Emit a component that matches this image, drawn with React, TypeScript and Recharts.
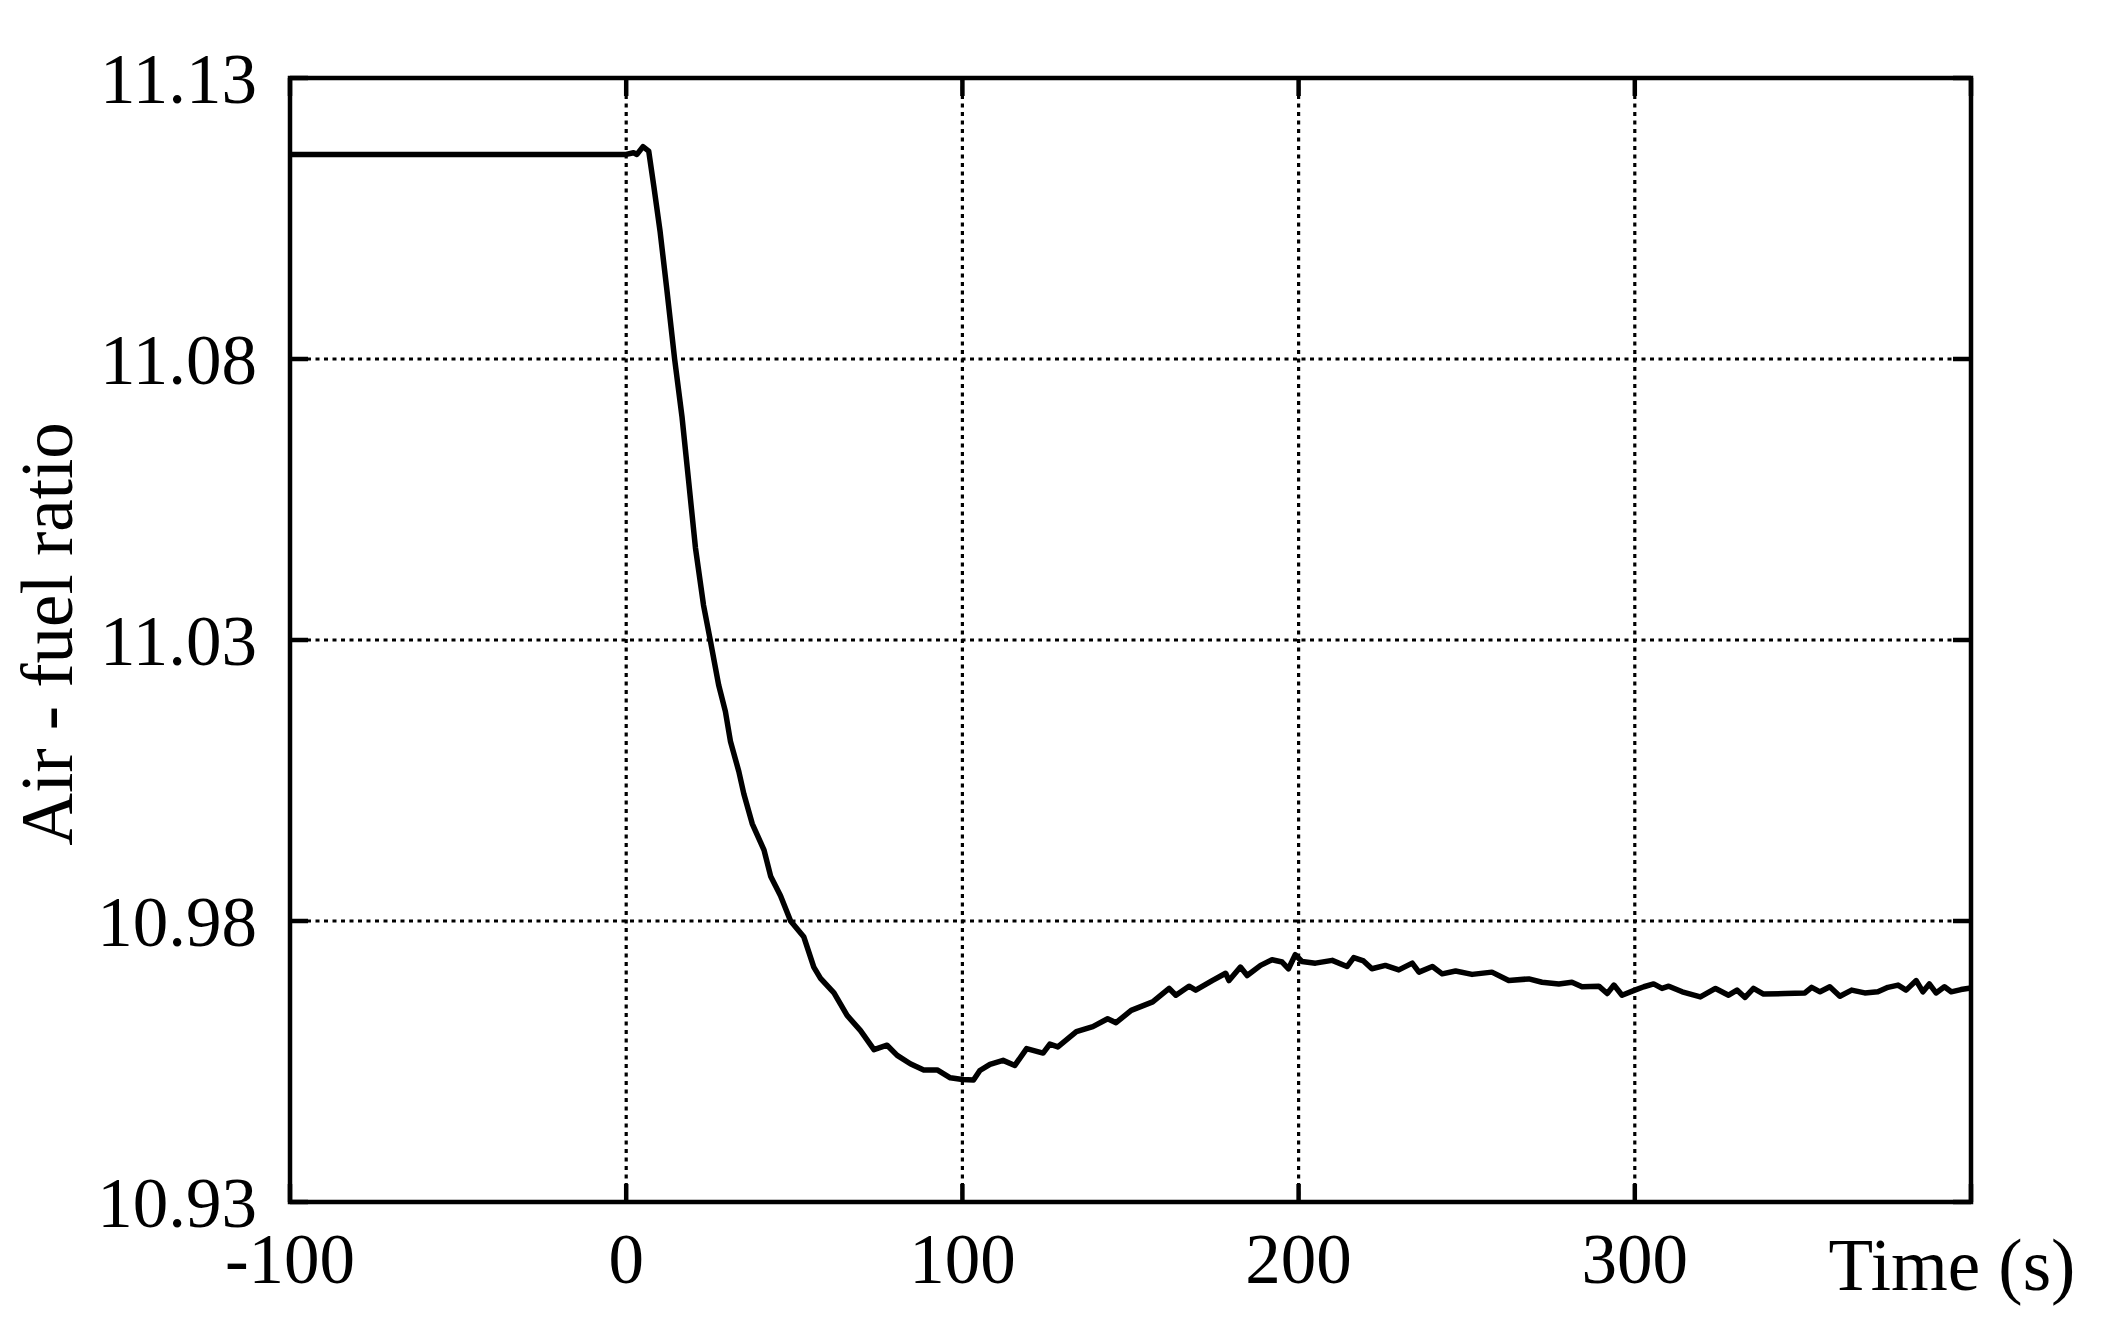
import React from 'react';
import { LineChart, Line, XAxis, YAxis, CartesianGrid, ReferenceArea, Label } from 'recharts';

// ---- data ----
const timeSeconds = [
  -100, 0, 2.2, 3.2, 5, 6.7, 8.2, 10.1, 12.1, 14.4, 16.6, 18.6, 20.6, 23, 25, 27.5, 29.5, 31, 33.5, 35,
  37.5, 41, 43, 45.9, 48.9, 52.8, 55.8, 57.8, 61.8, 65.7, 69.7, 73.7, 77.6, 80.6, 84.5, 88.5, 92.5, 96.4,
  100, 103.3, 105.2, 108.2, 112.1, 115.6, 119.1, 124, 126, 128.4, 133.9, 138.8, 143.2, 145.7, 150.2,
  156.6, 161.5, 163.5, 167.4, 169.4, 174.3, 178.3, 179.3, 182.7, 184.7, 188.7, 192.1, 195.1, 197, 199,
  201, 205, 210, 214.4, 216.4, 219.3, 221.8, 225.8, 229.8, 233.8, 235.8, 239.8, 242.7, 246.7, 251.6,
  257.5, 262.5, 268.5, 272.4, 277.4, 281.3, 284.3, 289.3, 291.8, 293.8, 296.2, 300, 302.7, 305.6, 308.1,
  310.1, 314.1, 319.5, 324, 327.9, 330.4, 332.8, 335.3, 338.3, 344.7, 350.6, 352.6, 355.1, 358, 361,
  364.5, 368.4, 372.3, 375.3, 378.3, 380.7, 383.7, 385.7, 387.6, 389.6, 392.1, 394.1, 397, 400,
];
const airFuelRatio = [
  11.1164, 11.1164, 11.1167, 11.1164, 11.1178, 11.117, 11.1108, 11.1026, 11.0923, 11.08, 11.0697, 11.0581,
  11.0464, 11.0362, 11.03, 11.022, 11.0173, 11.012, 11.0066, 11.0026, 10.9973, 10.9926, 10.9879, 10.9845,
  10.98, 10.9772, 10.9718, 10.9698, 10.9672, 10.9632, 10.9605, 10.9571, 10.9579, 10.9561, 10.9546,
  10.9535, 10.9535, 10.9521, 10.9518, 10.9517, 10.9534, 10.9545, 10.9552, 10.9543, 10.9573, 10.9565,
  10.9581, 10.9576, 10.9603, 10.9612, 10.9626, 10.9619, 10.9641, 10.9656, 10.968, 10.9668, 10.9684,
  10.9677, 10.9694, 10.9707, 10.9694, 10.9718, 10.9703, 10.9721, 10.9731, 10.9727, 10.9715, 10.974,
  10.9728, 10.9725, 10.973, 10.9719, 10.9735, 10.9729, 10.9715, 10.9721, 10.9713, 10.9725, 10.9709,
  10.9719, 10.9706, 10.9711, 10.9705, 10.9709, 10.9694, 10.9697, 10.9691, 10.9688, 10.9691, 10.9683,
  10.9684, 10.9671, 10.9686, 10.9668, 10.9677, 10.9683, 10.9688, 10.968, 10.9684, 10.9674, 10.9665,
  10.968, 10.9668, 10.9677, 10.9664, 10.968, 10.967, 10.9671, 10.9672, 10.9682, 10.9674, 10.9683,
  10.9666, 10.9677, 10.9672, 10.9674, 10.9682, 10.9686, 10.9677, 10.9694, 10.9674, 10.9688, 10.9672,
  10.9683, 10.9674, 10.9678, 10.9681,
];
const xTicks = [-100, 0, 100, 200, 300, 400];
const yTicks = [10.93, 10.98, 11.03, 11.08, 11.13];
const xDomain = [-100, 400];
const yDomain = [10.93, 11.13];
const xAxisTitle = 'Time (s)';
const yAxisTitle = 'Air - fuel ratio';

const data = timeSeconds.map((t, i) => ({ t, afr: airFuelRatio[i] }));

// ---- styling ----
const FONT = "'Liberation Serif', 'Times New Roman', serif";
const FS = 71;
const TICK_LEN = 18;
const TICK_W = 4.5;

function BottomTick(props: any) {
  const { x, y, payload } = props;
  const show = payload.value !== 400;
  return (
    <g>
      <line x1={x} y1={y} x2={x} y2={y - TICK_LEN} stroke="#000" strokeWidth={TICK_W} />
      {show && (
        <text x={x} y={y + 81} textAnchor="middle" fontSize={FS} fontFamily={FONT} fill="#000">
          {String(payload.value)}
        </text>
      )}
    </g>
  );
}

function TopTick(props: any) {
  const { x, y } = props;
  return <line x1={x} y1={y} x2={x} y2={y + TICK_LEN} stroke="#000" strokeWidth={TICK_W} />;
}

function LeftTick(props: any) {
  const { x, y, payload } = props;
  return (
    <g>
      <line x1={x} y1={y} x2={x + TICK_LEN} y2={y} stroke="#000" strokeWidth={TICK_W} />
      <text x={x - 33} y={y + 25} textAnchor="end" fontSize={FS} fontFamily={FONT} fill="#000">
        {Number(payload.value).toFixed(2)}
      </text>
    </g>
  );
}

function RightTick(props: any) {
  const { x, y } = props;
  return <line x1={x} y1={y} x2={x - TICK_LEN} y2={y} stroke="#000" strokeWidth={TICK_W} />;
}

export default function App() {
  return (
    <div style={{ position: 'absolute', left: 0, top: 0, width: 2110, height: 1339, background: '#fff' }}>
      <LineChart
        width={2110}
        height={1339}
        data={data}
        margin={{ top: 68, right: 129, bottom: 77, left: 190 }}
      >
        <CartesianGrid stroke="#000" strokeWidth={3.2} strokeDasharray="4 4.5" />
        <XAxis
          dataKey="t"
          type="number"
          domain={xDomain}
          ticks={xTicks}
          interval={0}
          allowDataOverflow
          height={60}
          axisLine={false}
          tickLine={false}
          tickSize={0}
          tickMargin={0}
          tick={<BottomTick />}
        >
          <Label
            content={(p: any) => {
              const vb = p.viewBox || { x: 290, y: 1202, width: 1681 };
              return (
                <text
                  x={vb.x + vb.width - 19}
                  y={vb.y + 88}
                  textAnchor="middle"
                  fontSize={FS + 2}
                  fontFamily={FONT}
                  fill="#000"
                >
                  {xAxisTitle}
                </text>
              );
            }}
          />
        </XAxis>
        <XAxis
          xAxisId="top"
          orientation="top"
          dataKey="t"
          type="number"
          domain={xDomain}
          ticks={xTicks}
          interval={0}
          allowDataOverflow
          height={10}
          axisLine={false}
          tickLine={false}
          tickSize={0}
          tickMargin={0}
          tick={<TopTick />}
        />
        <YAxis
          type="number"
          domain={yDomain}
          ticks={yTicks}
          interval={0}
          allowDataOverflow
          width={100}
          axisLine={false}
          tickLine={false}
          tickSize={0}
          tickMargin={0}
          tick={<LeftTick />}
        >
          <Label
            content={(p: any) => {
              const vb = p.viewBox || { x: 190, y: 78, width: 100, height: 1124 };
              const cx = vb.x + vb.width - 218;
              const cy = vb.y + vb.height / 2 - 6;
              return (
                <text
                  x={cx}
                  y={cy}
                  transform={`rotate(-90, ${cx}, ${cy})`}
                  textAnchor="middle"
                  fontSize={FS + 2}
                  fontFamily={FONT}
                  fill="#000"
                >
                  {yAxisTitle}
                </text>
              );
            }}
          />
        </YAxis>
        <YAxis
          yAxisId="right"
          orientation="right"
          type="number"
          domain={yDomain}
          ticks={yTicks}
          interval={0}
          allowDataOverflow
          width={10}
          axisLine={false}
          tickLine={false}
          tickSize={0}
          tickMargin={0}
          tick={<RightTick />}
        />
        <ReferenceArea
          x1={xDomain[0]}
          x2={xDomain[1]}
          y1={yDomain[0]}
          y2={yDomain[1]}
          fill="none"
          fillOpacity={0}
          stroke="#000"
          strokeWidth={4.5}
        />
        <Line
          type="linear"
          dataKey="afr"
          stroke="#000"
          strokeWidth={5.5}
          strokeLinejoin="round"
          dot={false}
          activeDot={false}
          isAnimationActive={false}
        />
      </LineChart>
    </div>
  );
}
